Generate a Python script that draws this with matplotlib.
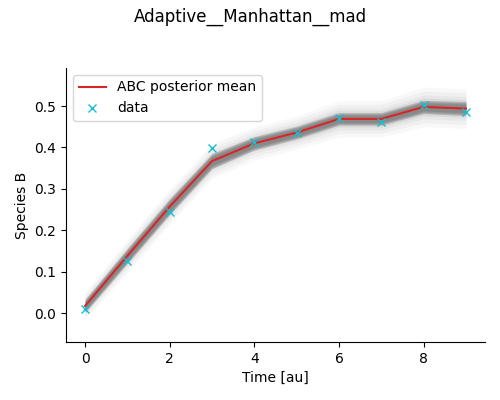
import matplotlib
matplotlib.use('Agg')
import matplotlib.pyplot as plt
import numpy as np

time_au = [0, 1, 2, 3, 4, 5, 6, 7, 8, 9]
data_b = [0.009, 0.126, 0.245, 0.398, 0.414, 0.434, 0.470, 0.461, 0.502, 0.486]
post_mean = [0.017, 0.138, 0.257, 0.367, 0.410, 0.436, 0.469, 0.469, 0.498, 0.494]
# half-widths of the posterior sample cloud: dense core and faint outer spread
core_hw = [0.016, 0.018, 0.019, 0.018, 0.016, 0.015, 0.015, 0.015, 0.016, 0.017]
outer_hw = [0.032, 0.040, 0.042, 0.042, 0.040, 0.040, 0.044, 0.044, 0.048, 0.048]

t = np.array(time_au)
m = np.array(post_mean)
core = np.array(core_hw)
outer = np.array(outer_hw)

fig = plt.figure(figsize=(5, 4), dpi=100)
ax = fig.add_axes([0.132, 0.145, 0.838, 0.685])

# posterior sample cloud, drawn as layered grey envelopes
for frac, a in [(1.0, 0.05), (0.8, 0.06), (0.6, 0.08), (0.45, 0.12)]:
    ax.fill_between(t, m - outer * frac, m + outer * frac, color='grey', alpha=a, lw=0)
for frac, a in [(1.0, 0.45), (0.8, 0.5), (0.6, 0.6)]:
    ax.fill_between(t, m - core * frac, m + core * frac, color='grey', alpha=a, lw=0)

ax.plot(t, m, color='tab:red', label='ABC posterior mean')
ax.plot(t, data_b, 'x', color='tab:cyan', label='data')

ax.set_xlim(-0.45, 9.45)
ax.set_ylim(-0.07, 0.592)
ax.set_xticks([0, 2, 4, 6, 8])
ax.set_yticks([0.0, 0.1, 0.2, 0.3, 0.4, 0.5])
ax.set_xlabel('Time [au]')
ax.set_ylabel('Species B')
ax.spines['top'].set_visible(False)
ax.spines['right'].set_visible(False)
ax.legend(loc='upper left')
fig.suptitle('Adaptive__Manhattan__mad')

fig.savefig('out.png', dpi=100)
